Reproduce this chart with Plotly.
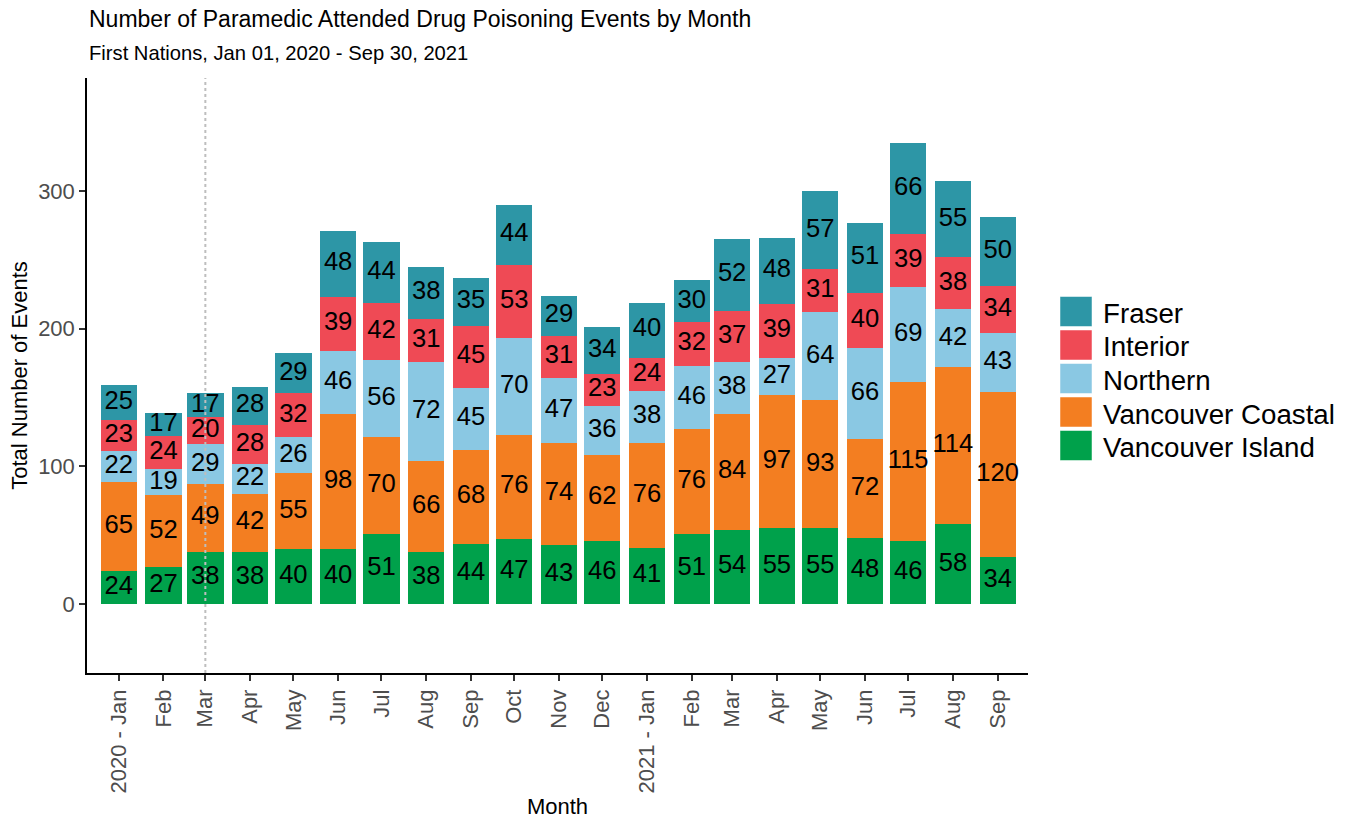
import numpy as np
import plotly.graph_objects as go

months = ["2020-01-01", "2020-02-01", "2020-03-01", "2020-04-01", "2020-05-01", "2020-06-01",
          "2020-07-01", "2020-08-01", "2020-09-01", "2020-10-01", "2020-11-01", "2020-12-01",
          "2021-01-01", "2021-02-01", "2021-03-01", "2021-04-01", "2021-05-01", "2021-06-01",
          "2021-07-01", "2021-08-01", "2021-09-01"]
tick_labels = ["2020 - Jan", "Feb", "Mar", "Apr", "May", "Jun", "Jul", "Aug", "Sep", "Oct", "Nov", "Dec",
               "2021 - Jan", "Feb", "Mar", "Apr", "May", "Jun", "Jul", "Aug", "Sep"]

vancouver_island = [24, 27, 38, 38, 40, 40, 51, 38, 44, 47, 43, 46, 41, 51, 54, 55, 55, 48, 46, 58, 34]
vancouver_coastal = [65, 52, 49, 42, 55, 98, 70, 66, 68, 76, 74, 62, 76, 76, 84, 97, 93, 72, 115, 114, 120]
northern = [22, 19, 29, 22, 26, 46, 56, 72, 45, 70, 47, 36, 38, 46, 38, 27, 64, 66, 69, 42, 43]
interior = [23, 24, 20, 28, 32, 39, 42, 31, 45, 53, 31, 23, 24, 32, 37, 39, 31, 40, 39, 38, 34]
fraser = [25, 17, 17, 28, 29, 48, 44, 38, 35, 44, 29, 34, 40, 30, 52, 48, 57, 51, 66, 55, 50]

# stacking order bottom -> top
series = [
    ("Vancouver Island", vancouver_island, "#00A14B"),
    ("Vancouver Coastal", vancouver_coastal, "#F37E21"),
    ("Northern", northern, "#8AC8E3"),
    ("Interior", interior, "#EF4A55"),
    ("Fraser", fraser, "#2D96A6"),
]
legend_order = ["Fraser", "Interior", "Northern", "Vancouver Coastal", "Vancouver Island"]

FONT = "Liberation Sans, Arial, sans-serif"
BAR_WIDTH_MS = 0.9 * 28 * 24 * 3600 * 1000

fig = go.Figure()
base = np.zeros(len(months))
for name, vals, color in series:
    v = np.array(vals, dtype=float)
    fig.add_trace(go.Bar(
        x=months, y=v, base=base.copy(), name=name,
        marker=dict(color=color, line=dict(width=0)),
        width=BAR_WIDTH_MS, showlegend=False,
    ))
    base = base + v

# labels at segment midpoints
base = np.zeros(len(months))
for name, vals, color in series:
    v = np.array(vals, dtype=float)
    fig.add_trace(go.Scatter(
        x=months, y=base + v / 2, mode="text", text=[str(int(t)) for t in v],
        textposition="middle center",
        textfont=dict(family=FONT, size=25.6, color="black"),
        showlegend=False, hoverinfo="skip", cliponaxis=False,
    ))
    base = base + v

# dotted reference line at Mar 2020
fig.add_shape(type="line", xref="x", yref="paper", x0=months[2], x1=months[2], y0=0, y1=1,
              line=dict(color="#BEBEBE", width=2, dash="dot"), layer="above")

# custom legend
color_map = {n: c for n, _, c in series}
plot_left, plot_right = 87, 1028
plot_top, plot_bottom = 78, 673
ph = plot_bottom - plot_top
pw = plot_right - plot_left
def py(y):
    return (plot_bottom - y) / ph
def pxx(x):
    return (x - plot_left) / pw
for i, name in enumerate(legend_order):
    cy = 311.5 + i * 33.5
    fig.add_shape(type="rect", xref="paper", yref="paper",
                  x0=pxx(1060), x1=pxx(1092),
                  y0=py(cy + 15), y1=py(cy - 15),
                  fillcolor=color_map[name], line=dict(color="white", width=0.5))
    fig.add_annotation(xref="paper", yref="paper", x=pxx(1101), y=py(cy + 2),
                       text=name, showarrow=False, xanchor="left", yanchor="middle",
                       font=dict(family=FONT, size=27.7, color="black"))

# titles
fig.add_annotation(xref="paper", yref="paper", x=0, y=py(19), xanchor="left", yanchor="middle",
                   text="Number of Paramedic Attended Drug Poisoning Events by Month", showarrow=False,
                   font=dict(family=FONT, size=23, color="black"))
fig.add_annotation(xref="paper", yref="paper", x=0, y=py(53), xanchor="left", yanchor="middle",
                   text="First Nations, Jan 01, 2020 - Sep 30, 2021", showarrow=False,
                   font=dict(family=FONT, size=20.2, color="black"))

fig.update_layout(
    width=1354, height=819,
    margin=dict(l=plot_left, r=1354 - plot_right, t=plot_top, b=819 - plot_bottom, autoexpand=False),
    plot_bgcolor="white", paper_bgcolor="white",
    barmode="overlay", bargap=0,
    font=dict(family=FONT, color="black"),
    showlegend=False,
)
fig.update_xaxes(
    type="date", range=["2019-12-10", "2021-09-22"], automargin=False,
    tickmode="array", tickvals=months, ticktext=tick_labels, tickangle=-90,
    tickfont=dict(family=FONT, size=22, color="#4D4D4D"),
    ticks="outside", ticklen=6, tickcolor="#333333", tickwidth=1.5,
    showline=True, linecolor="black", linewidth=1.5, mirror=False,
    showgrid=False, zeroline=False,
    title=dict(text="Month", font=dict(family=FONT, size=22, color="black"), standoff=6),
)
fig.update_yaxes(
    range=[-50, 382], tickmode="array", tickvals=[0, 100, 200, 300], automargin=False,
    tickfont=dict(family=FONT, size=22, color="#4D4D4D"),
    ticks="outside", ticklen=6, tickcolor="#333333", tickwidth=1.5,
    showline=True, linecolor="black", linewidth=1.5,
    showgrid=False, zeroline=False,
    title=dict(text="Total Number of Events", font=dict(family=FONT, size=22, color="black"), standoff=4),
)

fig.write_html("out.html", config={"displayModeBar": False},
               post_script="document.body.style.margin='0';")
